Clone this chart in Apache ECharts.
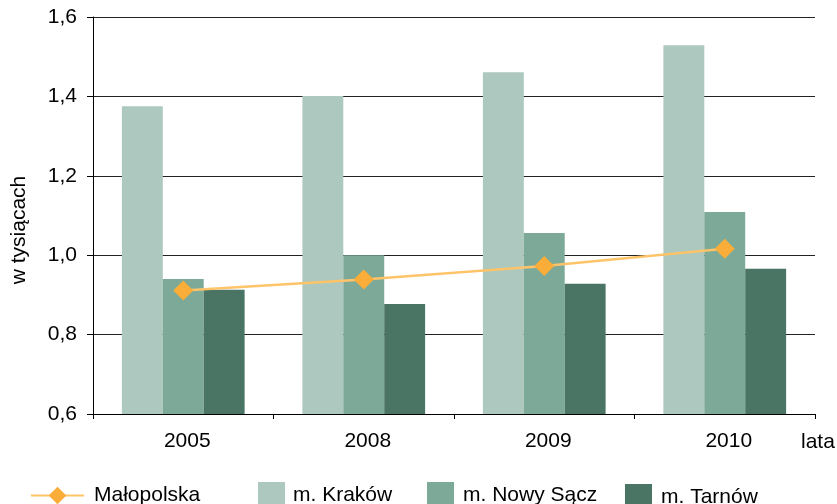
<!DOCTYPE html>
<html>
<head>
<meta charset="utf-8">
<script src="https://cdn.jsdelivr.net/npm/echarts@6/dist/echarts.min.js"></script>
<style>html,body{margin:0;padding:0;background:#fff}#c{width:837px;height:504px}</style>
</head>
<body>
<div id="c"></div>
<script>
var categories = ['2005', '2008', '2009', '2010'];
var krakow = [1.375, 1.401, 1.461, 1.529];
var nowySacz = [0.940, 1.000, 1.056, 1.109];
var tarnow = [0.913, 0.877, 0.928, 0.966];
var malopolska = [0.911, 0.939, 0.973, 1.016];
var yTicks = { min: 0.6, max: 1.6, interval: 0.2 };
var names = ['Małopolska', 'm. Kraków', 'm. Nowy Sącz', 'm. Tarnów'];

var FONT = 'Liberation Sans, Arial, sans-serif';
var chart = echarts.init(document.getElementById('c'), null, { renderer: 'canvas' });

function legend(name, left, top, w, h, pad, icon) {
  var l = {
    data: [name], left: left, top: top, padding: 0,
    itemWidth: w, itemHeight: h, selectedMode: false,
    textStyle: { fontFamily: FONT, fontSize: 21, color: '#000', padding: [0, 0, 0, pad] }
  };
  if (icon) l.icon = icon;
  return l;
}

chart.setOption({
  animation: false,
  backgroundColor: '#fff',
  grid: { left: 93, right: 22, top: 17, bottom: 90, containLabel: false },
  legend: [
    legend(names[0], 30, 485, 53, 22, 5),
    legend(names[1], 258, 482, 27, 27, 3, 'rect'),
    legend(names[2], 427, 482, 27, 27, 4, 'rect'),
    legend(names[3], 625, 484, 27, 27, 4, 'rect')
  ],
  xAxis: {
    type: 'category', data: categories, boundaryGap: true,
    axisLine: { lineStyle: { color: '#000', width: 1 } },
    axisTick: { show: true, interval: 0, length: 5, lineStyle: { color: '#000' } },
    axisLabel: { fontFamily: FONT, fontSize: 21, color: '#000', margin: 17, padding: [0, 0, 0, 8] },
    splitLine: { show: false }
  },
  yAxis: {
    type: 'value', min: yTicks.min, max: yTicks.max, interval: yTicks.interval,
    axisLine: { show: true, lineStyle: { color: '#000', width: 1 } },
    axisTick: { show: true, length: 6, lineStyle: { color: '#000' } },
    axisLabel: {
      fontFamily: FONT, fontSize: 21, color: '#000', margin: 16,
      formatter: function (v) { return v.toFixed(1).replace('.', ','); }
    },
    splitLine: { show: true, lineStyle: { color: '#222', width: 1 } }
  },
  graphic: [
    { type: 'text', x: 19, y: 230, rotation: Math.PI / 2,
      style: { text: 'w tysiącach', font: '21px ' + FONT, fill: '#000', textAlign: 'center', textVerticalAlign: 'middle' } },
    { type: 'text', x: 801, y: 442,
      style: { text: 'lata', font: '21px ' + FONT, fill: '#000', textAlign: 'left', textVerticalAlign: 'middle' } }
  ],
  series: [
    { name: names[1], type: 'bar', data: krakow, barGap: '0%', barCategoryGap: '32%',
      itemStyle: { color: '#ADC8BE' } },
    { name: names[2], type: 'bar', data: nowySacz, barGap: '0%', barCategoryGap: '32%',
      itemStyle: { color: '#7CA998' } },
    { name: names[3], type: 'bar', data: tarnow, barGap: '0%', barCategoryGap: '32%',
      itemStyle: { color: '#4A7565' } },
    { name: names[0], type: 'line', data: malopolska, z: 5,
      symbol: 'diamond', symbolSize: 20,
      lineStyle: { color: '#FFC46A', width: 2.5 },
      itemStyle: { color: '#FBAD3A' } }
  ]
});
</script>
</body>
</html>
